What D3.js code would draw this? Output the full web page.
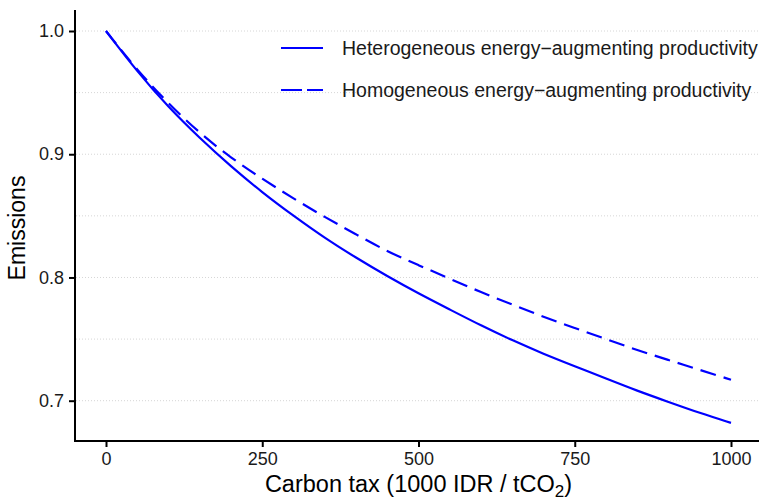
<!DOCTYPE html>
<html>
<head>
<meta charset="utf-8">
<script src="https://cdn.jsdelivr.net/npm/d3@7"></script>
<style>
    body { margin: 0; background: #fff; }
    text { font-family: 'Liberation Sans', Arial, sans-serif; }
</style>
</head>
<body>
<div id="chart"></div>
<script>
// carbon tax levels (1000 IDR / tCO2)
const taxLevels = [0, 50, 100, 150, 200, 250, 300, 350, 400, 450, 500,
    550, 600, 650, 700, 750, 800, 850, 900, 950, 1000];
// relative emissions, heterogeneous energy-augmenting productivity
const heteroEmissions = [1.000, 0.967, 0.938, 0.913, 0.890, 0.869, 0.850,
    0.832, 0.816, 0.801, 0.787, 0.774, 0.761, 0.749, 0.738, 0.728, 0.718,
    0.708, 0.699, 0.690, 0.682];
// relative emissions, homogeneous energy-augmenting productivity
const homoEmissions = [1.000, 0.968, 0.941, 0.917, 0.897, 0.880, 0.864,
    0.849, 0.835, 0.821, 0.810, 0.799, 0.788, 0.778, 0.768, 0.759, 0.750,
    0.741, 0.733, 0.725, 0.717];
const xTicks = [0, 250, 500, 750, 1000];
const yTicks = [0.7, 0.8, 0.9, 1.0];
const yMinorTicks = [0.75, 0.85, 0.95];
const seriesNames = [
    'Heterogeneous energy\u2212augmenting productivity',
    'Homogeneous energy\u2212augmenting productivity'
];

const width = 759;
const height = 500;
const BLUE = '#0000ff';
const DASH = '16,8';
const FONT = "'Liberation Sans', Arial, sans-serif";

const svg = d3.select('#chart')
    .append('svg')
    .attr('width', width)
    .attr('height', height);

// ggplot style 5% expansion on both axes
const xScale = d3.scaleLinear()
    .domain([-50, 1050])
    .range([74.75, 762.25]);

const yScale = d3.scaleLinear()
    .domain([0.7, 1.0])
    .range([400.7, 31]);

const yTop = 10;
const yBottom = 441;

// dotted gridlines
svg.append('g')
    .selectAll('line')
    .data(yTicks.concat(yMinorTicks))
    .enter()
    .append('line')
    .attr('x1', 76)
    .attr('x2', width)
    .attr('y1', (d) => yScale(d))
    .attr('y2', (d) => yScale(d))
    .attr('stroke', '#d6d6d6')
    .attr('stroke-width', 1)
    .attr('stroke-dasharray', '1,2');

// lines
const line = d3.line()
    .x((d) => xScale(d[0]))
    .y((d) => yScale(d[1]))
    .curve(d3.curveBasis);

const series = [
    { name: seriesNames[0], values: heteroEmissions, dash: null },
    { name: seriesNames[1], values: homoEmissions, dash: DASH }
];

series.forEach((s) => {
    svg.append('path')
        .datum(taxLevels.map((t, i) => [t, s.values[i]]))
        .attr('fill', 'none')
        .attr('stroke', BLUE)
        .attr('stroke-width', 2.2)
        .attr('stroke-dasharray', s.dash)
        .attr('d', line);
});

// x axis
const xAxis = d3.axisBottom(xScale)
    .tickValues(xTicks)
    .tickFormat(d3.format('d'))
    .tickSize(6)
    .tickPadding(5)
    .tickSizeOuter(0);
const gx = svg.append('g')
    .attr('transform', 'translate(0,' + yBottom + ')')
    .call(xAxis);
gx.select('.domain').remove();
gx.append('line')
    .attr('x1', 74)
    .attr('x2', width)
    .attr('stroke', '#000')
    .attr('stroke-width', 2);
gx.selectAll('.tick line').attr('stroke', '#000').attr('stroke-width', 2);
gx.selectAll('.tick text')
    .attr('fill', '#1a1a1a')
    .style('font-size', '18px')
    .style('font-family', FONT);

// y axis
const yAxis = d3.axisLeft(yScale)
    .tickValues(yTicks)
    .tickFormat(d3.format('.1f'))
    .tickSize(6)
    .tickPadding(5)
    .tickSizeOuter(0);
const gy = svg.append('g')
    .attr('transform', 'translate(75,0)')
    .call(yAxis);
gy.select('.domain').remove();
gy.append('line')
    .attr('y1', yTop)
    .attr('y2', yBottom + 1)
    .attr('stroke', '#000')
    .attr('stroke-width', 2);
gy.selectAll('.tick line').attr('stroke', '#000').attr('stroke-width', 2);
gy.selectAll('.tick text')
    .attr('fill', '#1a1a1a')
    .style('font-size', '18px')
    .style('font-family', FONT);

// axis titles
const xTitle = svg.append('text')
    .attr('x', 418.5)
    .attr('y', 492)
    .attr('text-anchor', 'middle')
    .style('font-size', '23.5px')
    .attr('fill', '#000');
xTitle.append('tspan').text('Carbon tax (1000 IDR / tCO');
xTitle.append('tspan')
    .attr('dy', 5)
    .style('font-size', '17px')
    .text('2');
xTitle.append('tspan')
    .attr('dy', -5)
    .text(')');

svg.append('text')
    .attr('transform', 'translate(25,' + 228 + ') rotate(-90)')
    .attr('text-anchor', 'middle')
    .style('font-size', '23px')
    .attr('fill', '#000')
    .text('Emissions');

// legend
const legend = svg.append('g')
    .attr('transform', 'translate(281,48)');

const legendItems = legend.selectAll('g')
    .data(series)
    .enter()
    .append('g')
    .attr('transform', (d, i) => 'translate(0,' + i * 42 + ')');

legendItems.append('line')
    .attr('x1', 0)
    .attr('x2', 42)
    .attr('stroke', BLUE)
    .attr('stroke-width', 2.2)
    .attr('stroke-dasharray', (d) => (d.dash ? '21,5' : null));

legendItems.append('text')
    .attr('x', 61)
    .attr('dy', '0.35em')
    .style('font-size', '19.5px')
    .attr('fill', '#1a1a1a')
    .text((d) => d.name);
</script>
</body>
</html>
